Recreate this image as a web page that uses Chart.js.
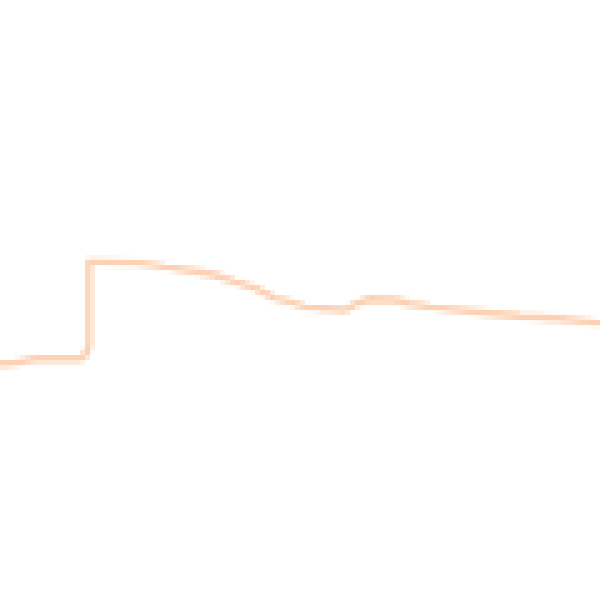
<!DOCTYPE html>
<html>
<head>
<meta charset="utf-8">
<script src="https://cdn.jsdelivr.net/npm/chart.js@4"></script>
<style>
    html, body { margin: 0; padding: 0; background: #fff; }
    #wrap { width: 600px; height: 600px; position: relative; }
    #chart { image-rendering: pixelated; }
</style>
</head>
<body>
<div id="wrap"><canvas id="chart"></canvas></div>
<script>
// traced profile: horizontal position and height of the line
const xVals = [0, 15, 35, 80, 86, 89, 89, 100, 140, 165, 195, 215, 235, 255, 275, 290, 305, 345, 355, 370, 395, 410, 430, 470, 520, 560, 600];
const yVals = [236, 237, 241, 241, 246, 255, 338, 338, 337, 333, 329, 325, 318, 312, 302, 298, 293, 290, 296, 301, 300, 296, 293, 289, 284, 281, 277];

const points = xVals.map((x, i) => ({ x, y: yVals[i] }));

new Chart(document.getElementById('chart').getContext('2d'), {
    type: 'line',
    data: {
        datasets: [{
            data: points,
            borderColor: '#fdd2b4',
            borderWidth: 7,
            pointRadius: 0,
            tension: 0,
            fill: false
        }]
    },
    options: {
        responsive: true,
        maintainAspectRatio: false,
        animation: false,
        devicePixelRatio: 0.2,
        layout: { padding: 0 },
        plugins: { legend: { display: false }, tooltip: { enabled: false } },
        scales: {
            x: { type: 'linear', min: 0, max: 600, display: false },
            y: { min: 0, max: 600, display: false }
        }
    }
});
</script>
</body>
</html>
